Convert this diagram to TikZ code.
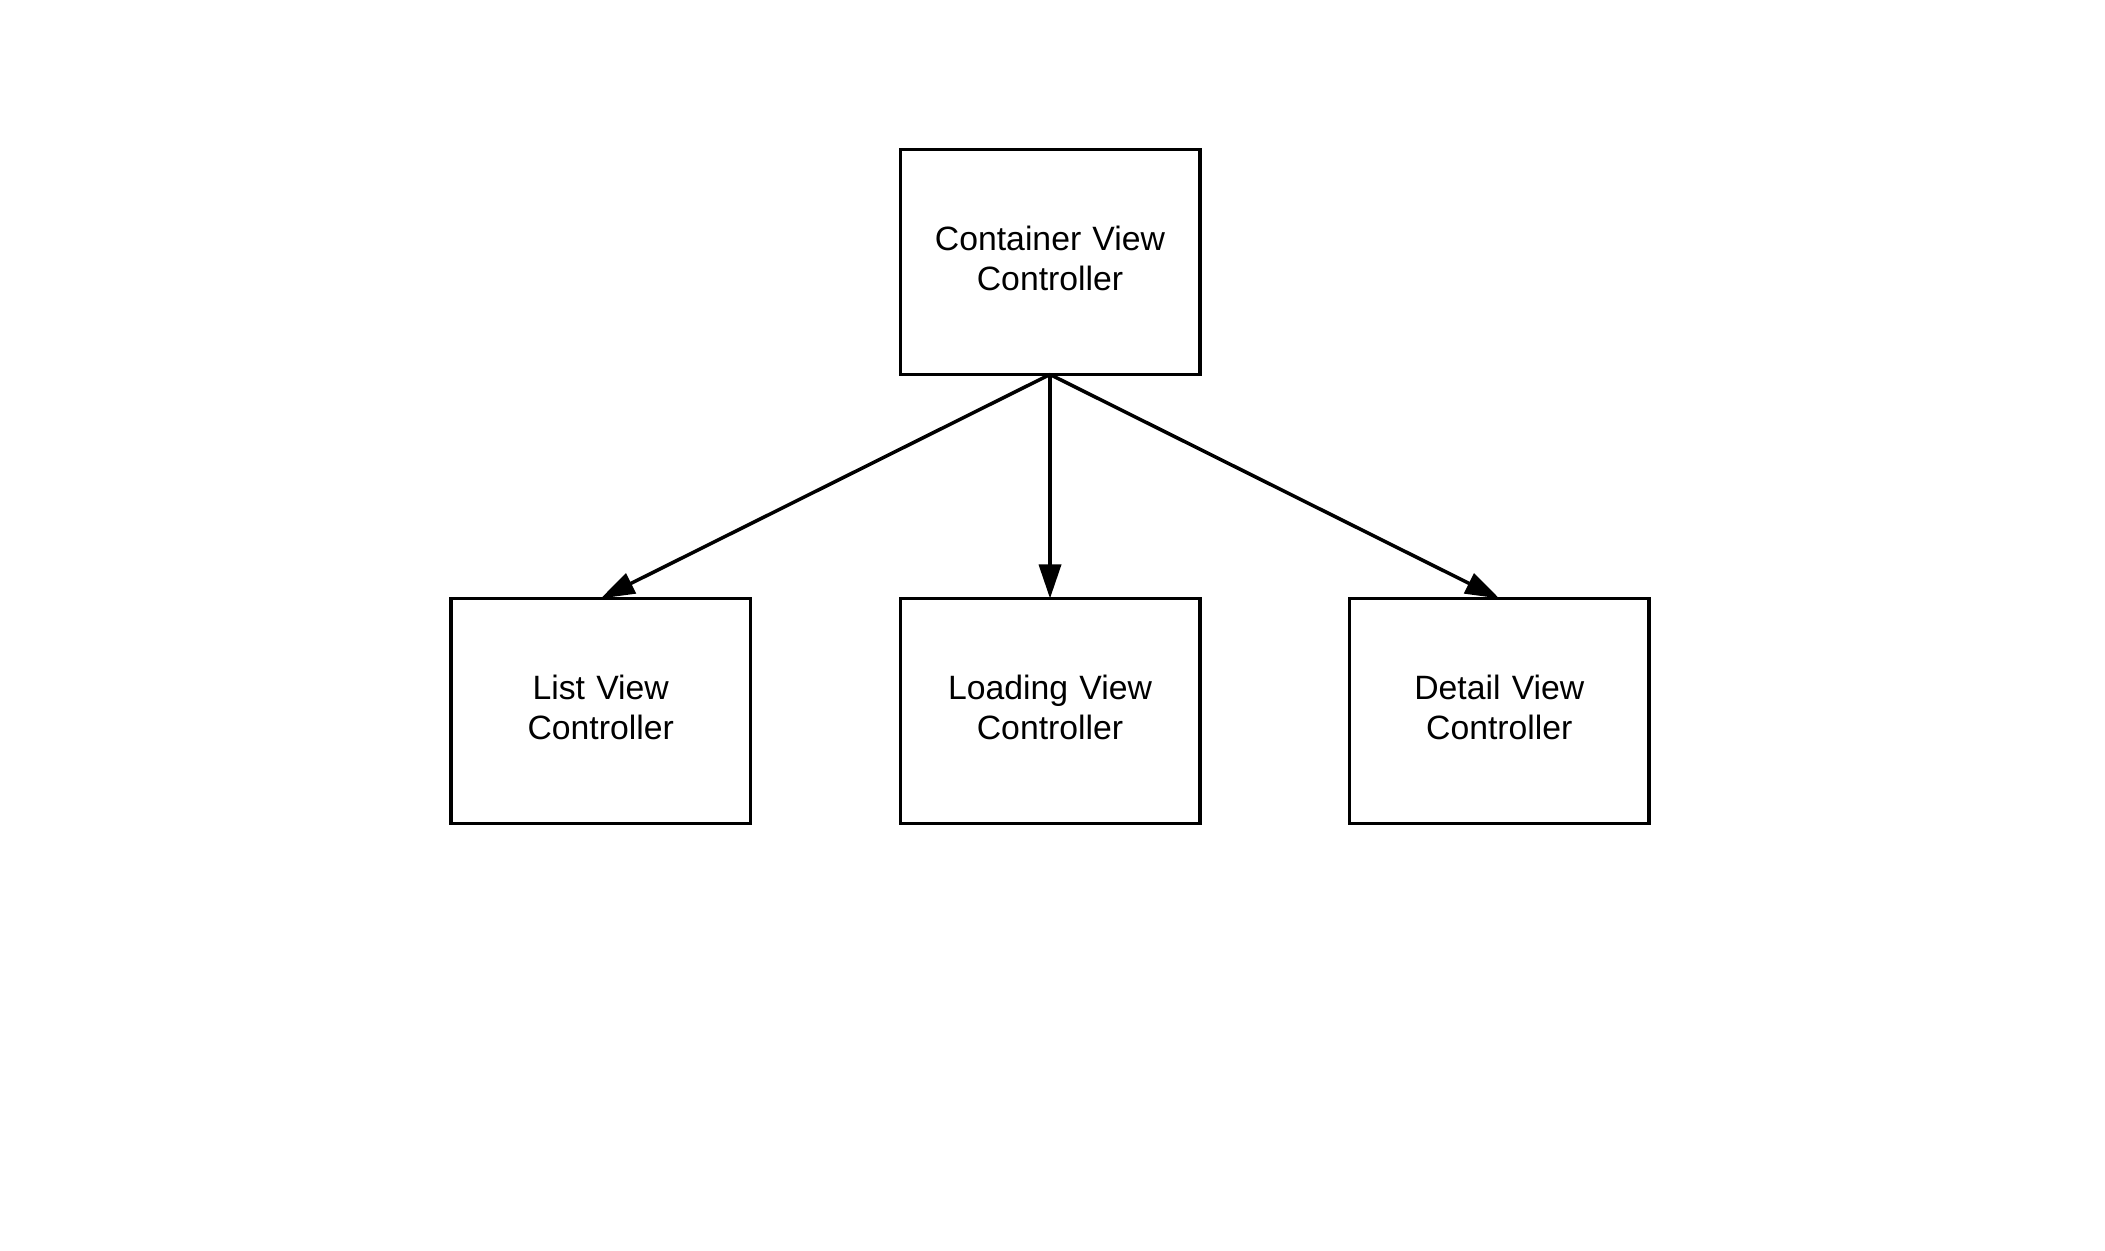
\documentclass[tikz,border=0pt]{standalone}
\usepackage{fontspec}
\setmainfont{Liberation Sans}
\usetikzlibrary{positioning,arrows.meta}
\tikzset{
>={Triangle[length=3.4mm,width=2.2mm]},
  vcbox/.style={
    rectangle,
    draw=black, line width=1pt,
    outer sep=0pt,
    minimum width=2.995cm,
    minimum height=2.25cm,
    text width=2.7cm,
    align=center,
    execute at end node={\vspace{0.8mm}},
    font=\fontsize{9.6}{11.4}\selectfont},
  line/.style={draw, line width=1pt, ->},
}

\begin{document}
\begin{tikzpicture}
  [node distance=2.24cm and 1.498cm]
  \useasboundingbox (0,0) rectangle (21.05,12.5);
    \node[vcbox] (container) at (10.5,9.88) {Container View\\Controller};
    \node[vcbox, below=of container] (loading) {Loading View\\Controller};
    \node[vcbox, left=of loading] (list) {List View\\Controller};
    \node[vcbox, right=of loading] (detail) {Detail View\\Controller};
  % arrows from the container down to its children
  \path[line] (container.south) -- (list.north);
  \path[line] (container.south) -- (loading.north);
  \path[line] (container.south) -- (detail.north);
\end{tikzpicture}
\end{document}
